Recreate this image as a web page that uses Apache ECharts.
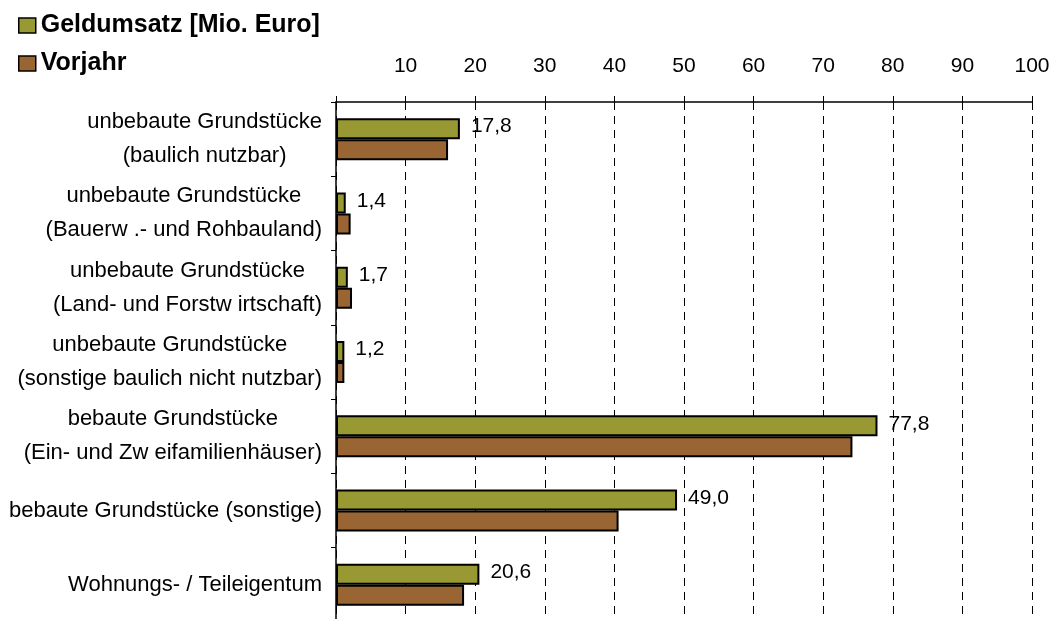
<!DOCTYPE html>
<html>
<head>
<meta charset="utf-8">
<script src="https://cdn.jsdelivr.net/npm/echarts@6/dist/echarts.min.js"></script>
<style>
  html, body { margin: 0; padding: 0; background: #fff; }
  #chart { width: 1059px; height: 619px; }
</style>
</head>
<body>
<div id="chart"></div>
<script>
const kategorien = [
  "unbebaute Grundstücke\n(baulich nutzbar)",
  "unbebaute Grundstücke\n(Bauerw .- und Rohbauland)",
  "unbebaute Grundstücke\n(Land- und Forstw irtschaft)",
  "unbebaute Grundstücke\n(sonstige baulich nicht nutzbar)",
  "bebaute Grundstücke\n(Ein- und Zw eifamilienhäuser)",
  "bebaute Grundstücke (sonstige)",
  "Wohnungs- / Teileigentum"
];
const geldumsatz = [17.8, 1.4, 1.7, 1.2, 77.8, 49.0, 20.6];
const vorjahr = [16.1, 2.1, 2.3, 1.2, 74.2, 40.6, 18.4];
const achsenWerte = [10, 20, 30, 40, 50, 60, 70, 80, 90, 100];

const schrift = "'Liberation Sans', Arial, sans-serif";

const chart = echarts.init(document.getElementById("chart"));

chart.setOption({
  animation: false,
  backgroundColor: "#fff",
  textStyle: { fontFamily: schrift, color: "#000" },
  legend: {
    orient: "vertical",
    left: 13,
    top: 8,
    itemWidth: 17,
    itemHeight: 15,
    itemGap: 13,
    icon: "rect",
    selectedMode: false,
    textStyle: {
      fontFamily: schrift,
      fontSize: 25,
      fontWeight: "bold",
      color: "#000"
    },
    itemStyle: { borderColor: "#000", borderWidth: 1.5 },
    data: ["Geldumsatz [Mio. Euro]", "Vorjahr"]
  },
  grid: {
    left: 336,
    right: 27,
    top: 102,
    bottom: -3,
    containLabel: false,
    outerBoundsMode: "none"
  },
  xAxis: {
    type: "value",
    position: "top",
    min: 0,
    max: 100,
    interval: 10,
    axisLine: { show: true, lineStyle: { color: "#000", width: 1.5 } },
    axisTick: { show: true, length: 6, lineStyle: { color: "#000", width: 1 } },
    axisLabel: {
      margin: 25,
      fontSize: 21,
      color: "#000",
      fontFamily: schrift,
      formatter: (v) => (achsenWerte.includes(v) ? String(v) : "")
    },
    splitLine: {
      show: true,
      lineStyle: { color: "#000", width: 1, type: [8, 6] }
    }
  },
  yAxis: {
    type: "category",
    inverse: true,
    data: kategorien,
    axisLine: { show: true, lineStyle: { color: "#000", width: 1.5 } },
    axisTick: { show: true, length: 5, lineStyle: { color: "#000" } },
    axisLabel: {
      margin: 14,
      color: "#000",
      fontFamily: schrift,
      formatter: (v) => v.split("\n").map((z) => "{z|" + z + "}").join("\n"),
      rich: {
        z: {
          align: "center",
          fontSize: 22,
          lineHeight: 34,
          fontFamily: schrift,
          color: "#000"
        }
      }
    }
  },
  series: [
    {
      name: "Geldumsatz [Mio. Euro]",
      type: "bar",
      data: geldumsatz,
      barWidth: 21,
      barGap: "0%",
      itemStyle: { color: "#999933", borderColor: "#000", borderWidth: 2 },
      label: {
        show: true,
        position: "right",
        distance: 11,
        offset: [0, -2],
        fontSize: 21,
        color: "#000",
        fontFamily: schrift,
        formatter: (p) => p.value.toFixed(1).replace(".", ",")
      }
    },
    {
      name: "Vorjahr",
      type: "bar",
      data: vorjahr,
      barWidth: 21,
      barGap: "0%",
      itemStyle: { color: "#996633", borderColor: "#000", borderWidth: 2 }
    }
  ]
});
</script>
</body>
</html>
